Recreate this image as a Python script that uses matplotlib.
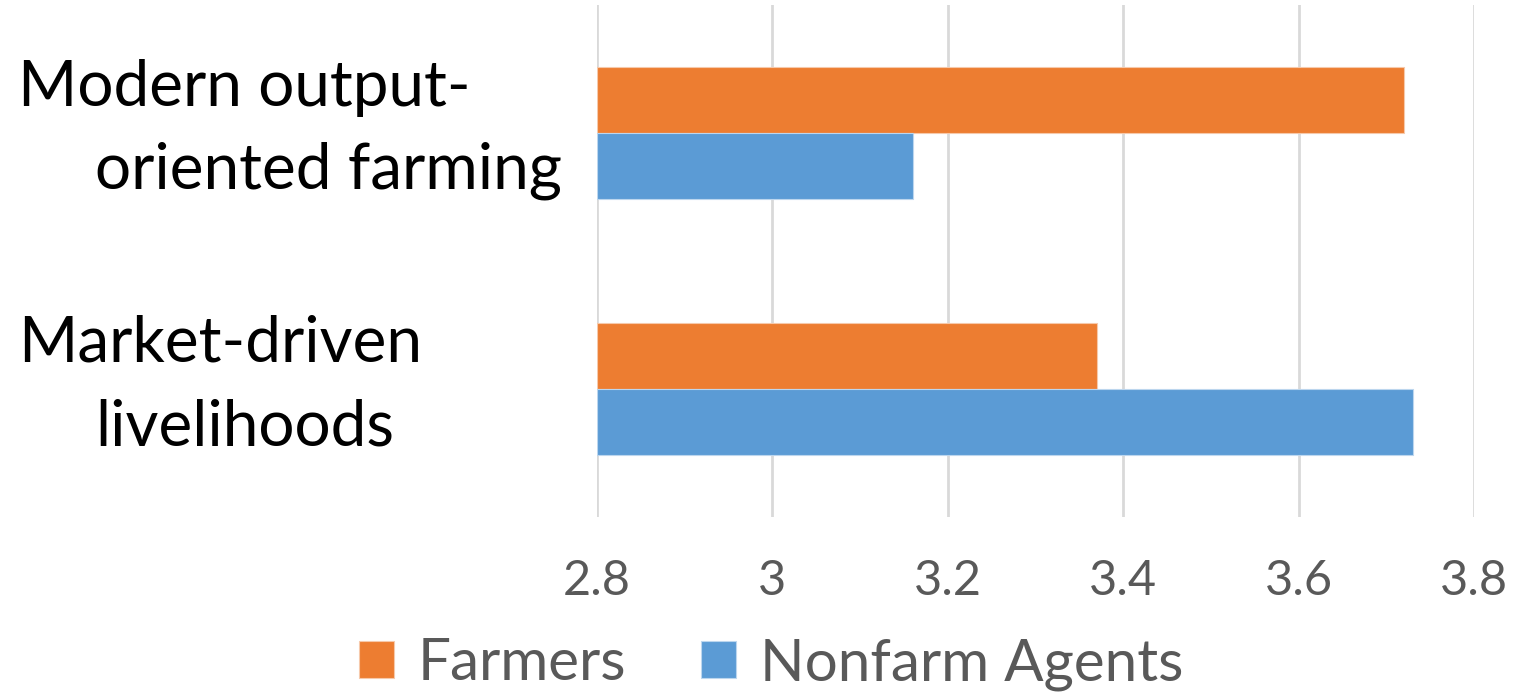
import matplotlib
matplotlib.use("Agg")
import matplotlib.pyplot as plt
import numpy as np

plt.rcParams['font.family'] = ['Lato', 'DejaVu Sans']

# dados
categorias = [("Modern output-", "oriented farming"), ("Market-driven", "livelihoods")]
farmers = [3.72, 3.37]
nonfarm = [3.16, 3.73]
series_nomes = ["Farmers", "Nonfarm Agents"]
ticks = [2.8, 3.0, 3.2, 3.4, 3.6, 3.8]
tick_labels = ["2.8", "3", "3.2", "3.4", "3.6", "3.8"]

cor_laranja = "#ED7D31"
cor_azul = "#5B9BD5"
cinza = "#595959"

fig = plt.figure(figsize=(15.15, 6.96), dpi=100)
ax = fig.add_axes([597 / 1515, 1 - 517 / 696, (1474 - 597) / 1515, 512 / 696])

y = np.arange(len(categorias))
h = 0.258
b1 = ax.barh(y - h / 2, np.array(farmers) - 2.8, left=2.8, height=h,
             color=cor_laranja, edgecolor="#f6c9ab", linewidth=0.8, zorder=3)
b2 = ax.barh(y + h / 2, np.array(nonfarm) - 2.8, left=2.8, height=h,
             color=cor_azul, edgecolor="#bcd6ee", linewidth=0.8, zorder=3)

ax.set_xlim(2.8, 3.8)
ax.set_ylim(len(categorias) - 0.5, -0.5)
ax.set_xticks(ticks)
ax.set_xticklabels(tick_labels, fontsize=35, color=cinza)
ax.set_yticks([])
ax.tick_params(axis='x', length=0, pad=30)
ax.grid(axis='x', color="#d9d9d9", linewidth=2, zorder=0)
for s in ax.spines.values():
    s.set_visible(False)

# rótulos das categorias em duas linhas (segunda com recuo)
trans = matplotlib.transforms.blended_transform_factory(fig.transFigure, ax.transData)
for i, (l1, l2) in enumerate(categorias):
    ax.annotate(l1, xy=(18 / 1515, i), xycoords=trans, xytext=(0, 27),
                textcoords='offset pixels', fontsize=46, va='baseline', ha='left',
                color='black', annotation_clip=False)
    ax.annotate(l2, xy=(95 / 1515, i), xycoords=trans, xytext=(0, -56),
                textcoords='offset pixels', fontsize=46, va='baseline', ha='left',
                color='black', annotation_clip=False)

leg = fig.legend([b1, b2], series_nomes, loc='center', bbox_to_anchor=(771 / 1515, 1 - 664 / 696),
                 ncol=2, frameon=False, fontsize=42, handlelength=0.6, handleheight=0.6,
                 handletextpad=0.4, columnspacing=1.3, borderpad=0)
for t in leg.get_texts():
    t.set_color(cinza)

fig.savefig("out.png", dpi=100)
